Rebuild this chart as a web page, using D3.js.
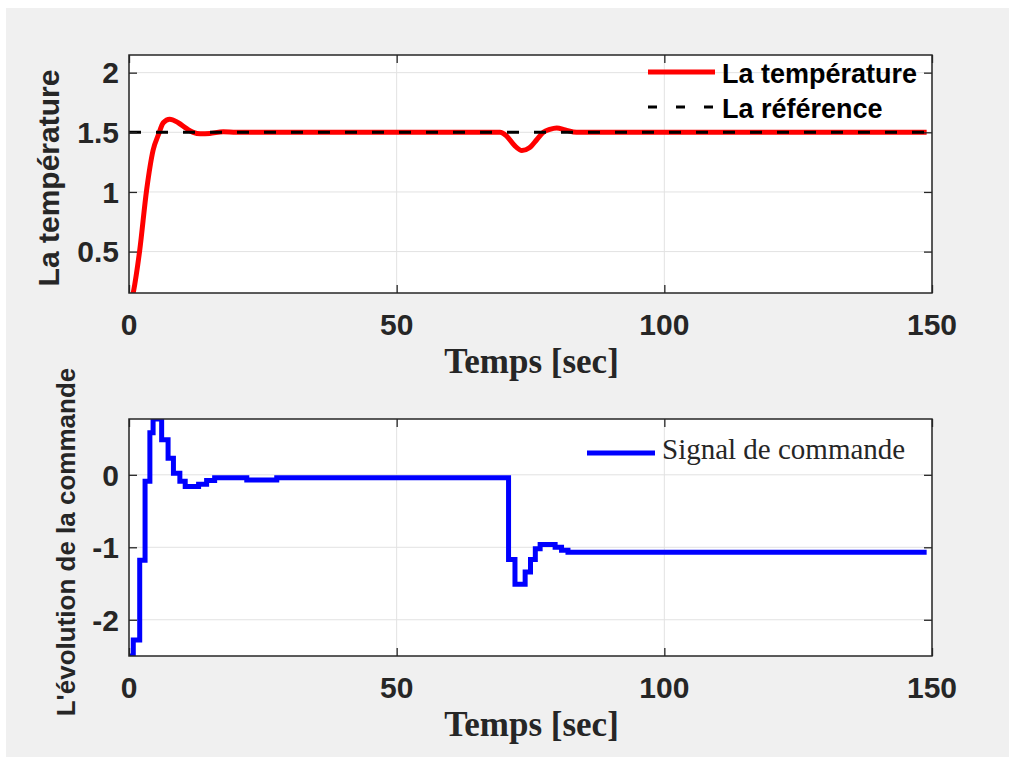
<!DOCTYPE html>
<html>
<head>
<meta charset="utf-8">
<script src="https://cdn.jsdelivr.net/npm/d3@7"></script>
<style>
  body { margin: 0; background: #fff; }
  .grid line { stroke: #e2e2e2; stroke-width: 1; }
  .tick-label { font-family: "Liberation Sans", Arial, sans-serif; font-weight: bold; font-size: 30px; fill: #262626; }
  .xlabel { font-family: "Liberation Serif", "Times New Roman", serif; font-weight: bold; font-size: 35px; fill: #262626; }
</style>
</head>
<body>
<div class="graph"></div>
<script>
// temperature response
var tempTime  = [0, 0.8, 2.0, 3.3, 4.5, 5.5, 6.4, 7.6, 9.2, 10.8, 12.0, 13.3, 15.1, 17.6, 20,
                 69.3, 70.5, 72, 73.4, 74.8, 76.2, 77.4, 78.6, 79.9, 81.5, 83.6, 149];
var tempValue = [0, 0.155, 0.51, 1.02, 1.35, 1.48, 1.58, 1.61, 1.58, 1.53, 1.50, 1.487, 1.49, 1.505, 1.5,
                 1.5, 1.47, 1.39, 1.347, 1.37, 1.44, 1.5, 1.525, 1.537, 1.52, 1.5, 1.5];

// reference
var refTime  = [0, 149];
var refValue = [1.5, 1.5];

// command signal (stairs)
var cmdTime  = [0, 0.8, 2.0, 3.0, 3.9, 4.5, 6.1, 7.3, 8.3, 9.5, 10.5, 13.0, 14.5, 16.0, 22.0, 27.6,
                70.9, 72.1, 74.0, 75.0, 75.9, 76.8, 79.6, 80.8, 82.0, 149];
var cmdValue = [-2.5, -2.28, -1.18, -0.09, 0.58, 0.77, 0.485, 0.23, 0.02, -0.09, -0.16, -0.13, -0.08, -0.04, -0.07, -0.04,
                -1.17, -1.51, -1.34, -1.17, -1.02, -0.96, -1.0, -1.04, -1.07, -1.07];

// axis settings
var xDomain = [0, 150];
var xTicks = [0, 50, 100, 150];
var topYDomain = [0.153, 2.148];
var topYTicks = [0.5, 1, 1.5, 2];
var botYTicks = [-2, -1, 0];

var svg = d3.select(".graph").append("svg")
    .attr("width", 1014)
    .attr("height", 761);

// figure background
svg.append("rect")
    .attr("x", 6).attr("y", 8)
    .attr("width", 1003).attr("height", 749)
    .attr("fill", "#f0f0f0");

function zip(a, b) {
  return a.map(function(d, i) { return {t: d, v: b[i]}; });
}

function makeAxes(id, top, bottom, yDomain, yTicks) {
  var left = 129, right = 932;
  var x = d3.scaleLinear().domain(xDomain).range([left, right]);
  var y = d3.scaleLinear().domain(yDomain).range([bottom, top]);
  var g = svg.append("g");

  g.append("rect")
      .attr("x", left).attr("y", top)
      .attr("width", right - left).attr("height", bottom - top)
      .attr("fill", "#fff");

  g.append("clipPath").attr("id", id)
    .append("rect")
      .attr("x", left).attr("y", top)
      .attr("width", right - left).attr("height", bottom - top);

  // grid
  var grid = g.append("g").attr("class", "grid");
  grid.selectAll("line.gx").data(xTicks).enter().append("line")
      .attr("x1", function(d) { return x(d); }).attr("x2", function(d) { return x(d); })
      .attr("y1", top).attr("y2", bottom);
  grid.selectAll("line.gy").data(yTicks).enter().append("line")
      .attr("y1", function(d) { return y(d); }).attr("y2", function(d) { return y(d); })
      .attr("x1", left).attr("x2", right);

  return {g: g, x: x, y: y, left: left, right: right, top: top, bottom: bottom};
}

function finishAxes(ax, yTicks, yFormat) {
  var g = ax.g;
  // inward ticks on all four sides
  var axisCol = "#262626";
  var bottomAxis = g.append("g").attr("transform", "translate(0," + ax.bottom + ")")
      .call(d3.axisBottom(ax.x).tickValues(xTicks).tickSizeInner(-8).tickSizeOuter(0).tickFormat(""));
  var topAxis = g.append("g").attr("transform", "translate(0," + ax.top + ")")
      .call(d3.axisTop(ax.x).tickValues(xTicks).tickSizeInner(-8).tickSizeOuter(0).tickFormat(""));
  var leftAxis = g.append("g").attr("transform", "translate(" + ax.left + ",0)")
      .call(d3.axisLeft(ax.y).tickValues(yTicks).tickSizeInner(-8).tickSizeOuter(0).tickFormat(""));
  var rightAxis = g.append("g").attr("transform", "translate(" + ax.right + ",0)")
      .call(d3.axisRight(ax.y).tickValues(yTicks).tickSizeInner(-8).tickSizeOuter(0).tickFormat(""));
  [bottomAxis, topAxis, leftAxis, rightAxis].forEach(function(a) {
    a.select(".domain").remove();
    a.selectAll("line").attr("stroke", axisCol).attr("stroke-width", 1.3);
  });

  g.append("rect")
      .attr("x", ax.left).attr("y", ax.top)
      .attr("width", ax.right - ax.left).attr("height", ax.bottom - ax.top)
      .attr("fill", "none").attr("stroke", axisCol).attr("stroke-width", 1.5);

  // tick labels
  g.selectAll("text.xt").data(xTicks).enter().append("text")
      .attr("class", "tick-label")
      .attr("x", function(d) { return ax.x(d); })
      .attr("y", ax.bottom + 42)
      .attr("text-anchor", "middle")
      .text(function(d) { return d; });
  g.selectAll("text.yt").data(yTicks).enter().append("text")
      .attr("class", "tick-label")
      .attr("x", 119)
      .attr("y", function(d) { return ax.y(d); })
      .attr("dy", "0.36em")
      .attr("text-anchor", "end")
      .text(yFormat);

  // x label
  g.append("text")
      .attr("class", "xlabel")
      .attr("x", (ax.left + ax.right) / 2 + 1)
      .attr("y", ax.bottom + 80)
      .attr("text-anchor", "middle")
      .text("Temps [sec]");
}

// ---- top plot
var line = function(ax, curve) {
  return d3.line()
      .x(function(d) { return ax.x(d.t); })
      .y(function(d) { return ax.y(d.v); })
      .curve(curve);
};

var ax1 = makeAxes("clip1", 55, 293, topYDomain, topYTicks);
ax1.g.append("path")
    .datum(zip(tempTime, tempValue))
    .attr("clip-path", "url(#clip1)")
    .attr("fill", "none")
    .attr("stroke", "#ff0000")
    .attr("stroke-width", 5)
    .attr("stroke-linejoin", "round")
    .attr("d", line(ax1, d3.curveMonotoneX));
ax1.g.append("path")
    .datum(zip(refTime, refValue))
    .attr("clip-path", "url(#clip1)")
    .attr("fill", "none")
    .attr("stroke", "#000")
    .attr("stroke-width", 3)
    .attr("stroke-dasharray", "12,15")
    .attr("d", line(ax1, d3.curveLinear));
finishAxes(ax1, topYTicks, function(d) { return d; });

// top legend
var leg1 = ax1.g.append("g");
leg1.append("line").attr("x1", 648).attr("x2", 715).attr("y1", 72).attr("y2", 72)
    .attr("stroke", "#ff0000").attr("stroke-width", 5);
leg1.append("line").attr("x1", 648).attr("x2", 715).attr("y1", 107).attr("y2", 107)
    .attr("stroke", "#000").attr("stroke-width", 3).attr("stroke-dasharray", "9,19");
leg1.selectAll("text").data(["La température", "La référence"]).enter().append("text")
    .attr("x", 722)
    .attr("y", function(d, i) { return 83 + i * 35; })
    .style("font-family", "Liberation Sans, Arial, sans-serif")
    .style("font-weight", "bold")
    .style("font-size", "27px")
    .style("fill", "#000")
    .text(function(d) { return d; });

// top y label
svg.append("text")
    .attr("transform", "translate(59,178) rotate(-90)")
    .attr("text-anchor", "middle")
    .style("font-family", "Liberation Sans, Arial, sans-serif")
    .style("font-weight", "bold")
    .style("font-size", "30px")
    .style("fill", "#262626")
    .text("La température");

// ---- bottom plot
var botYDomain = d3.extent(cmdValue);
var ax2 = makeAxes("clip2", 419, 656, botYDomain, botYTicks);
ax2.g.append("path")
    .datum(zip(cmdTime, cmdValue))
    .attr("clip-path", "url(#clip2)")
    .attr("fill", "none")
    .attr("stroke", "#0000ff")
    .attr("stroke-width", 5)
    .attr("d", line(ax2, d3.curveStepAfter));
finishAxes(ax2, botYTicks, function(d) { return d; });

// bottom legend
var leg2 = ax2.g.append("g");
leg2.append("line").attr("x1", 587).attr("x2", 655).attr("y1", 453).attr("y2", 453)
    .attr("stroke", "#0000ff").attr("stroke-width", 5);
leg2.append("text")
    .attr("x", 662).attr("y", 459)
    .style("font-family", "Liberation Serif, Times New Roman, serif")
    .style("font-size", "29px")
    .style("fill", "#262626")
    .text("Signal de commande");

// bottom y label
svg.append("text")
    .attr("transform", "translate(75,542) rotate(-90)")
    .attr("text-anchor", "middle")
    .style("font-family", "Liberation Sans, Arial, sans-serif")
    .style("font-weight", "bold")
    .style("font-size", "26px")
    .style("fill", "#262626")
    .text("L'évolution de la commande");
</script>
</body>
</html>
